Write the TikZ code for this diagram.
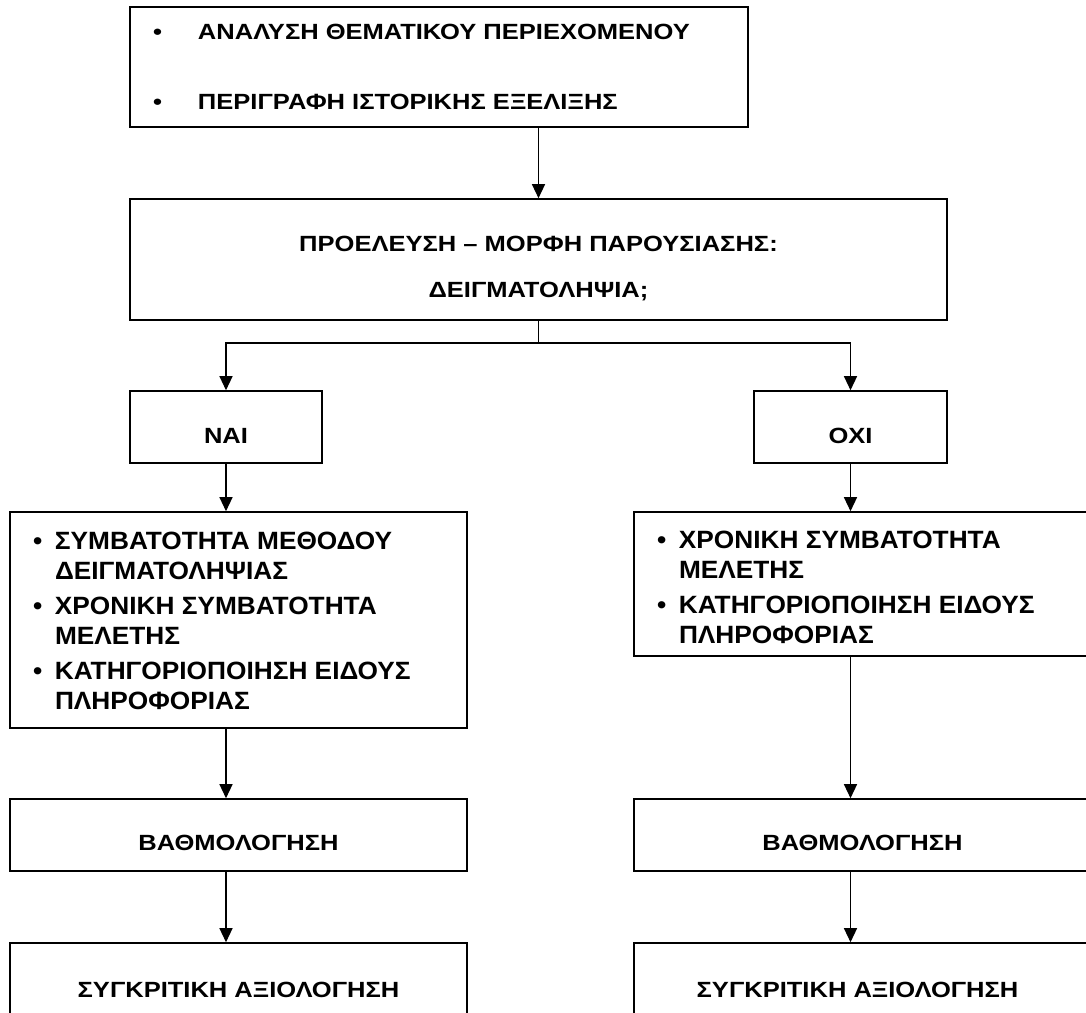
\documentclass[tikz,border=0pt]{standalone}
\usepackage{fontspec}
\setmainfont{Liberation Sans}
\newfontfamily\fA[FakeStretch=1.16]{Liberation Sans}
\newfontfamily\fB[FakeStretch=1.05]{Liberation Sans}
\usetikzlibrary{arrows.meta}
\newcommand\tb[4]{\parbox[c][#2][t]{#1}{\vspace*{#3}#4}}
\begin{document}
\begin{tikzpicture}[x=1pt,y=-1pt,
  box/.style={draw, line width=1.6pt, inner sep=0pt, font=\bfseries},
  arr/.style={line width=1.3pt, -{Triangle[length=14pt,width=13pt]}},
  ln/.style={line width=1.3pt}]
\useasboundingbox (0,0) rectangle (1086,1012);
\clip (0,0) rectangle (1086,1012);
\fill[white] (0,0) rectangle (1086,1012);

\node[box] (T) at (439,67) {\tb{618pt}{120pt}{17pt}{\fA\bfseries\fontsize{22}{70}\selectfont\leftskip=23pt
 \makebox[45pt][l]{•}ΑΝΑΛΥΣΗ ΘΕΜΑΤΙΚΟΥ ΠΕΡΙΕΧΟΜΕΝΟΥ\\
 \makebox[45pt][l]{•}ΠΕΡΙΓΡΑΦΗ ΙΣΤΟΡΙΚΗΣ ΕΞΕΛΙΞΗΣ}};

\node[box] (P) at (538.5,259.5) {\tb{817pt}{121pt}{37pt}{\centering\fA\bfseries\fontsize{22}{46}\selectfont
 ΠΡΟΕΛΕΥΣΗ – ΜΟΡΦΗ ΠΑΡΟΥΣΙΑΣΗΣ:\\ ΔΕΙΓΜΑΤΟΛΗΨΙΑ;}};

\coordinate (br) at (538.5,343);

\node[box] (N) at (226,427) {\tb{192pt}{72pt}{37pt}{\centering\fA\bfseries\fontsize{22}{26}\selectfont ΝΑΙ}};
\node[box] (O) at (850.5,427) {\tb{193pt}{72pt}{37pt}{\centering\fA\bfseries\fontsize{22}{26}\selectfont ΟΧΙ}};

\node[box] (L) at (238.5,620) {\tb{457pt}{216pt}{20pt}{\fB\bfseries\fontsize{25}{30}\selectfont\leftskip=23pt
 \makebox[22pt][l]{•}ΣΥΜΒΑΤΟΤΗΤΑ ΜΕΘΟΔΟΥ\\ \hspace*{22pt}ΔΕΙΓΜΑΤΟΛΗΨΙΑΣ\\[5pt]
 \makebox[22pt][l]{•}ΧΡΟΝΙΚΗ ΣΥΜΒΑΤΟΤΗΤΑ\\ \hspace*{22pt}ΜΕΛΕΤΗΣ\\[5pt]
 \makebox[22pt][l]{•}ΚΑΤΗΓΟΡΙΟΠΟΙΗΣΗ ΕΙΔΟΥΣ\\ \hspace*{22pt}ΠΛΗΡΟΦΟΡΙΑΣ}};

\node[box] (R) at (862.5,584) {\tb{457pt}{144pt}{19pt}{\fB\bfseries\fontsize{25}{30}\selectfont\leftskip=23pt
 \makebox[22pt][l]{•}ΧΡΟΝΙΚΗ ΣΥΜΒΑΤΟΤΗΤΑ\\ \hspace*{22pt}ΜΕΛΕΤΗΣ\\[5pt]
 \makebox[22pt][l]{•}ΚΑΤΗΓΟΡΙΟΠΟΙΗΣΗ ΕΙΔΟΥΣ\\ \hspace*{22pt}ΠΛΗΡΟΦΟΡΙΑΣ}};

\node[box] (BL) at (238.5,835) {\tb{457pt}{72pt}{36pt}{\centering\fA\bfseries\fontsize{22}{26}\selectfont ΒΑΘΜΟΛΟΓΗΣΗ}};
\node[box] (BR) at (862.5,835) {\tb{457pt}{72pt}{36pt}{\centering\fA\bfseries\fontsize{22}{26}\selectfont ΒΑΘΜΟΛΟΓΗΣΗ}};

\node[box] (CL) at (238.5,991.5) {\tb{457pt}{97pt}{39pt}{\centering\fA\bfseries\fontsize{22}{26}\selectfont ΣΥΓΚΡΙΤΙΚΗ ΑΞΙΟΛΟΓΗΣΗ}};
\node[box] (CR) at (862.5,991.5) {\tb{457pt}{97pt}{39pt}{\centering\fA\bfseries\fontsize{22}{26}\selectfont ΣΥΓΚΡΙΤΙΚΗ ΑΞΙΟΛΟΓΗΣΗ\hspace*{10pt}}};

\draw[arr] (T.south -| P.north) -- (P.north);
\draw[ln] (P.south) -- (br);
\draw[arr] (br) -| (N.north);
\draw[arr] (br) -| (O.north);
\draw[arr] (N.south) -- (N.south |- L.north);
\draw[arr] (O.south) -- (O.south |- R.north);
\draw[arr] (N.south |- L.south) -- (N.south |- BL.north);
\draw[arr] (O.south |- R.south) -- (O.south |- BR.north);
\draw[arr] (N.south |- BL.south) -- (N.south |- CL.north);
\draw[arr] (O.south |- BR.south) -- (O.south |- CR.north);
\end{tikzpicture}
\end{document}
